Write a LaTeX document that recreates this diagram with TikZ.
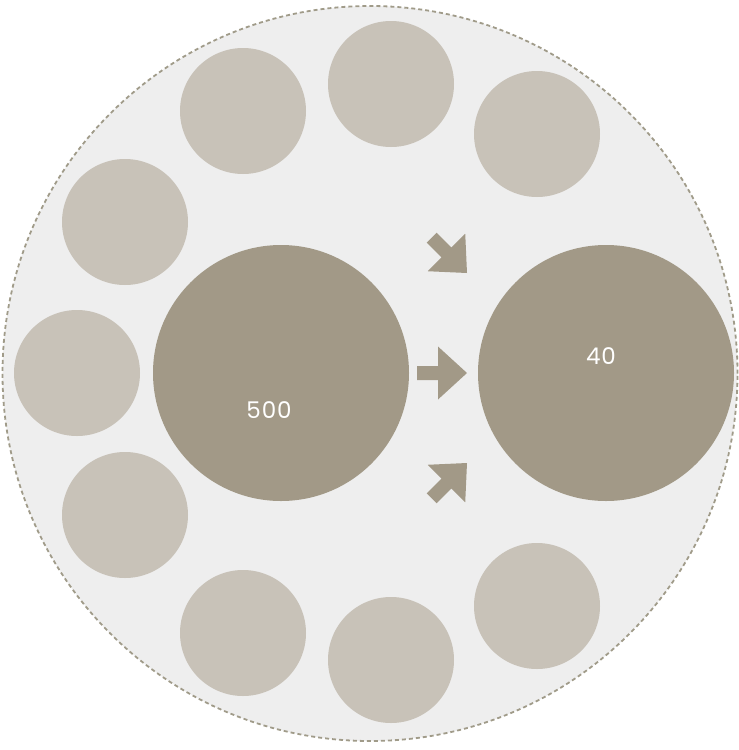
\documentclass[tikz,border=0pt]{standalone}
\usepackage{fontspec}
\setmainfont{Poppins}[LetterSpace=4]
\definecolor{bgfill}{HTML}{EEEEEE}
\definecolor{rimcol}{HTML}{A09B89}
\definecolor{smallcol}{HTML}{C8C2B8}
\definecolor{bigcol}{HTML}{A29987}
\tikzset{
  smallc/.style={circle, fill=smallcol, minimum size=126pt, inner sep=0pt},
  bigc/.style={circle, fill=bigcol, minimum size=256pt, inner sep=0pt},
  numlabel/.style={text=white, font=\fontsize{23}{27}\selectfont, inner sep=0pt},
  arrowshape/.style={fill=bigcol},
}
\begin{document}
\begin{tikzpicture}[x=1pt,y=-1pt]
\useasboundingbox (0,0) rectangle (739,750);
\node[circle, fill=bgfill, draw=rimcol, line width=1.8pt, dash pattern=on 4pt off 3pt, minimum size=735pt, inner sep=0pt] (outer) at (370,373.5) {};
\node[smallc] (s1) at (243,111) {};
\node[smallc] (s2) at (391,84) {};
\node[smallc] (s3) at (537,134) {};
\node[smallc] (s4) at (125,222) {};
\node[smallc] (s5) at (77,373) {};
\node[smallc] (s6) at (125,515) {};
\node[smallc] (s7) at (243,633) {};
\node[smallc] (s8) at (391,660) {};
\node[smallc] (s9) at (537,606) {};
\node[bigc] (left) at (281,373) {};
\node[bigc] (right) at (606,373) {};
\node[numlabel] (n500) at (269,410) {500};
\node[numlabel] (n40) at (601,356) {40};
\def\arrowpath{(0,0) -- (-29,-26.5) -- (-29,-7) -- (-50,-7) -- (-50,7) -- (-29,7) -- (-29,26.5) -- cycle}
\fill[arrowshape, shift={(467,373)}] \arrowpath;
\fill[arrowshape, shift={(467,273)}, rotate=-45] \arrowpath;
\fill[arrowshape, shift={(467,463)}, rotate=45] \arrowpath;
\end{tikzpicture}
\end{document}
